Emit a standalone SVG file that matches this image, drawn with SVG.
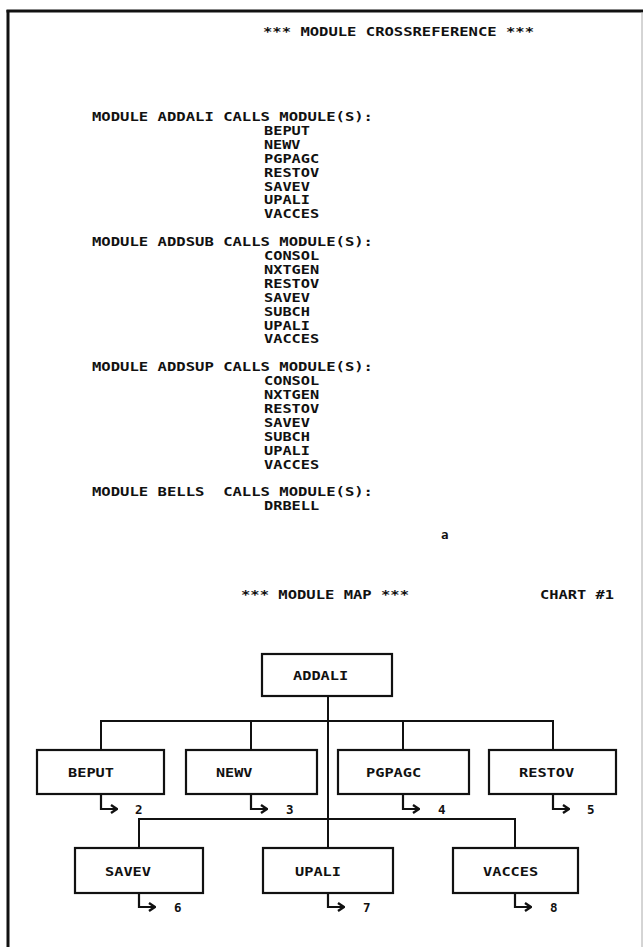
<svg xmlns="http://www.w3.org/2000/svg" width="644" height="947" viewBox="0 0 644 947">
<style>
  text { font-family: "DejaVu Sans Mono", "Liberation Mono", monospace; font-weight: bold; font-size: 12.5px; fill: #111; }
  .box { fill: #fff; stroke: #111; stroke-width: 2.2; }
  .ln { fill: none; stroke: #111; stroke-width: 2; }
  .arr { fill: none; stroke: #111; stroke-width: 2.2; marker-end: url(#ah); }
</style>
<defs>
  <marker id="ah" viewBox="0 0 8 10" refX="7" refY="5" markerWidth="8" markerHeight="10" markerUnits="userSpaceOnUse" orient="auto">
    <path d="M1,1 L7,5 L1,9" fill="none" stroke="#111" stroke-width="2.4"/>
  </marker>
</defs>
<rect width="644" height="947" fill="#fff"/>
<g id="frame">
  <line x1="6.5" y1="11" x2="643" y2="11" stroke="#111" stroke-width="3"/>
  <line x1="8" y1="10" x2="8" y2="947" stroke="#111" stroke-width="3"/>
  <line x1="642" y1="12" x2="642" y2="947" stroke="#aaa" stroke-width="1"/>
</g>
<g id="crossref" lengthAdjust="spacingAndGlyphs">
  <text x="263" y="36" textLength="271" lengthAdjust="spacingAndGlyphs">*** MODULE CROSSREFERENCE ***</text>
  <text x="92" y="121" textLength="281" lengthAdjust="spacingAndGlyphs">MODULE ADDALI CALLS MODULE(S):</text>
  <text x="264" y="134.9" textLength="46" lengthAdjust="spacingAndGlyphs">BEPUT</text>
  <text x="264" y="148.8" textLength="36.4" lengthAdjust="spacingAndGlyphs">NEWV</text>
  <text x="264" y="162.7" textLength="55.2" lengthAdjust="spacingAndGlyphs">PGPAGC</text>
  <text x="264" y="176.6" textLength="55.2" lengthAdjust="spacingAndGlyphs">RESTOV</text>
  <text x="264" y="190.5" textLength="46" lengthAdjust="spacingAndGlyphs">SAVEV</text>
  <text x="264" y="204.4" textLength="46" lengthAdjust="spacingAndGlyphs">UPALI</text>
  <text x="264" y="218.3" textLength="55.2" lengthAdjust="spacingAndGlyphs">VACCES</text>
  <text x="92" y="246.1" textLength="281" lengthAdjust="spacingAndGlyphs">MODULE ADDSUB CALLS MODULE(S):</text>
  <text x="264" y="260" textLength="55.2" lengthAdjust="spacingAndGlyphs">CONSOL</text>
  <text x="264" y="273.9" textLength="55.2" lengthAdjust="spacingAndGlyphs">NXTGEN</text>
  <text x="264" y="287.8" textLength="55.2" lengthAdjust="spacingAndGlyphs">RESTOV</text>
  <text x="264" y="301.7" textLength="46" lengthAdjust="spacingAndGlyphs">SAVEV</text>
  <text x="264" y="315.6" textLength="46" lengthAdjust="spacingAndGlyphs">SUBCH</text>
  <text x="264" y="329.5" textLength="46" lengthAdjust="spacingAndGlyphs">UPALI</text>
  <text x="264" y="343.4" textLength="55.2" lengthAdjust="spacingAndGlyphs">VACCES</text>
  <text x="92" y="371.2" textLength="281" lengthAdjust="spacingAndGlyphs">MODULE ADDSUP CALLS MODULE(S):</text>
  <text x="264" y="385.1" textLength="55.2" lengthAdjust="spacingAndGlyphs">CONSOL</text>
  <text x="264" y="399" textLength="55.2" lengthAdjust="spacingAndGlyphs">NXTGEN</text>
  <text x="264" y="412.9" textLength="55.2" lengthAdjust="spacingAndGlyphs">RESTOV</text>
  <text x="264" y="426.8" textLength="46" lengthAdjust="spacingAndGlyphs">SAVEV</text>
  <text x="264" y="440.7" textLength="46" lengthAdjust="spacingAndGlyphs">SUBCH</text>
  <text x="264" y="454.6" textLength="46" lengthAdjust="spacingAndGlyphs">UPALI</text>
  <text x="264" y="468.5" textLength="55.2" lengthAdjust="spacingAndGlyphs">VACCES</text>
  <text x="92" y="496.3" xml:space="preserve" textLength="281" lengthAdjust="spacingAndGlyphs">MODULE BELLS  CALLS MODULE(S):</text>
  <text x="264" y="510.2" textLength="55.2" lengthAdjust="spacingAndGlyphs">DRBELL</text>
  <text x="441" y="539">a</text>
</g>
<g id="map-title">
  <text x="241" y="599" textLength="168" lengthAdjust="spacingAndGlyphs">*** MODULE MAP ***</text>
  <text x="540" y="599" textLength="74" lengthAdjust="spacingAndGlyphs">CHART #1</text>
</g>
<g id="connectors">
  <line class="ln" x1="328" y1="696" x2="328" y2="848"/>
  <line class="ln" x1="100" y1="721" x2="554" y2="721"/>
  <line class="ln" x1="101" y1="721" x2="101" y2="750"/>
  <line class="ln" x1="251" y1="721" x2="251" y2="750"/>
  <line class="ln" x1="403" y1="721" x2="403" y2="750"/>
  <line class="ln" x1="553" y1="721" x2="553" y2="750"/>
  <line class="ln" x1="138" y1="819" x2="516" y2="819"/>
  <line class="ln" x1="139" y1="819" x2="139" y2="848"/>
  <line class="ln" x1="515" y1="819" x2="515" y2="848"/>
  <polyline class="arr" points="101,794 101,809 117,809"/>
  <polyline class="arr" points="251,794 251,809 267,809"/>
  <polyline class="arr" points="403,794 403,809 419,809"/>
  <polyline class="arr" points="553,794 553,809 569,809"/>
  <polyline class="arr" points="139,893 139,907 155,907"/>
  <polyline class="arr" points="328,893 328,907 344,907"/>
  <polyline class="arr" points="515,893 515,907 531,907"/>
</g>
<g id="node-addali">
  <rect class="box" x="262" y="654" width="130" height="42"/>
  <text x="293" y="680" textLength="55.2" lengthAdjust="spacingAndGlyphs">ADDALI</text>
</g>
<g id="node-beput">
  <rect class="box" x="37" y="750" width="127" height="44"/>
  <text x="68" y="777" textLength="46" lengthAdjust="spacingAndGlyphs">BEPUT</text>
  <text x="135" y="814">2</text>
</g>
<g id="node-newv">
  <rect class="box" x="186" y="750" width="131" height="44"/>
  <text x="216" y="777" textLength="36.4" lengthAdjust="spacingAndGlyphs">NEWV</text>
  <text x="286" y="814">3</text>
</g>
<g id="node-pgpagc">
  <rect class="box" x="338" y="750" width="131" height="44"/>
  <text x="366" y="777" textLength="55.2" lengthAdjust="spacingAndGlyphs">PGPAGC</text>
  <text x="438" y="814">4</text>
</g>
<g id="node-restov">
  <rect class="box" x="489" y="750" width="127" height="44"/>
  <text x="519" y="777" textLength="55.2" lengthAdjust="spacingAndGlyphs">RESTOV</text>
  <text x="587" y="814">5</text>
</g>
<g id="node-savev">
  <rect class="box" x="75" y="848" width="128" height="45"/>
  <text x="105" y="876" textLength="46" lengthAdjust="spacingAndGlyphs">SAVEV</text>
  <text x="174" y="912">6</text>
</g>
<g id="node-upali">
  <rect class="box" x="263" y="848" width="130" height="45"/>
  <text x="295" y="876" textLength="46" lengthAdjust="spacingAndGlyphs">UPALI</text>
  <text x="363" y="912">7</text>
</g>
<g id="node-vacces">
  <rect class="box" x="453" y="848" width="125" height="45"/>
  <text x="483" y="876" textLength="55.2" lengthAdjust="spacingAndGlyphs">VACCES</text>
  <text x="550" y="912">8</text>
</g>
</svg>
